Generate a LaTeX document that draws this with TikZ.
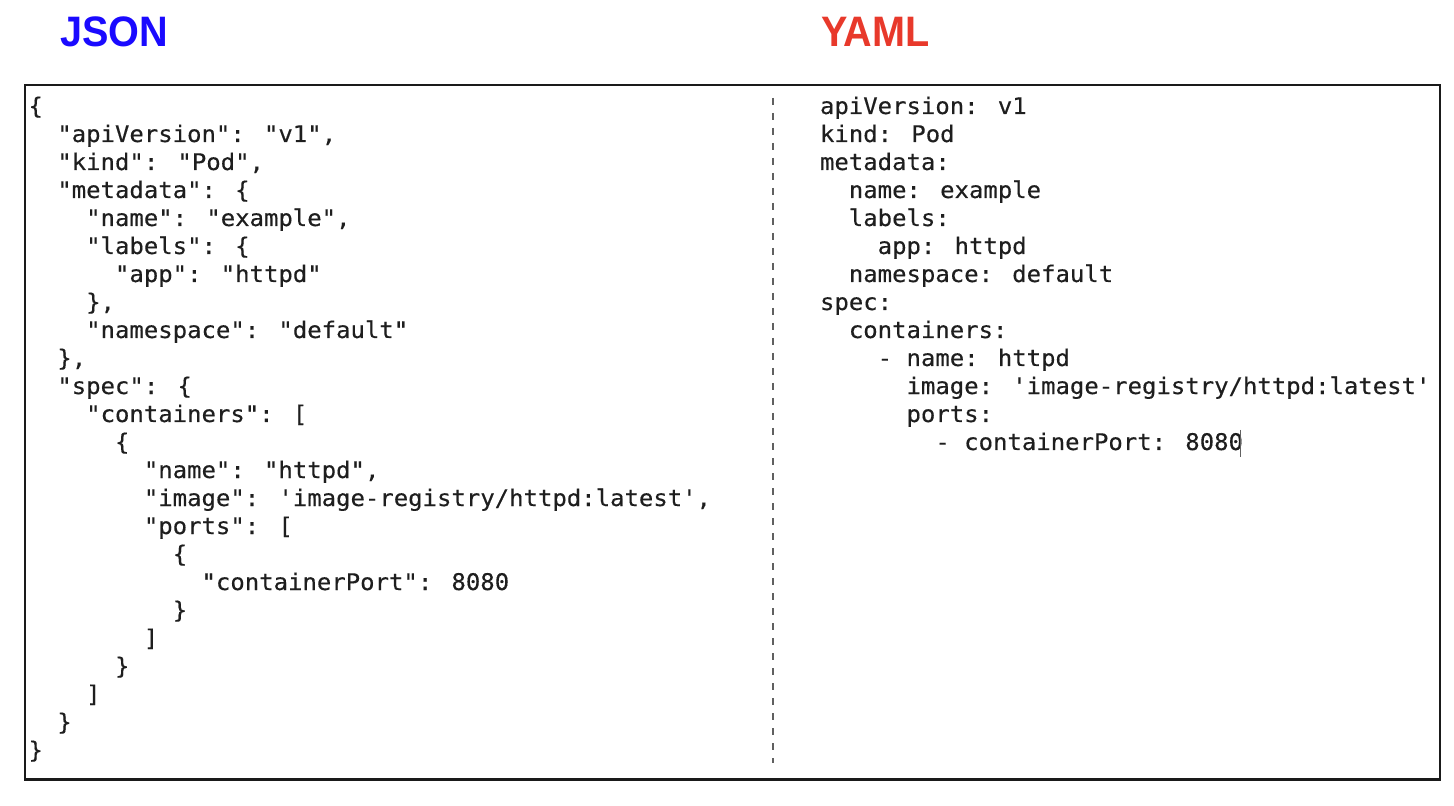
\documentclass[tikz,border=0pt]{standalone}
\usepackage{fontspec}
\usepackage{graphicx}
\setmainfont{Liberation Sans}
\newfontfamily\codefont{DejaVu Sans Mono}[FakeBold=0.3]
\newfontfamily\titlefont{Liberation Sans}
\definecolor{codecol}{HTML}{1E1E1E}
\definecolor{jsonblue}{HTML}{1A0AFF}
\definecolor{yamlred}{HTML}{E8392B}
\definecolor{framecol}{HTML}{1A1A1A}
\definecolor{dashcol}{HTML}{606060}
\newcommand\sq{\char"27\relax}
\newcommand\jl[4]{\node[code] (#1) at ({28.5+#2*14.42},{114+(#3-1)*28}) {\scalebox{1.046}[1]{#4}};}
\newcommand\yl[4]{\node[code] (#1) at ({820+#2*14.42},{114+(#3-1)*28}) {\scalebox{1.046}[1]{#4}};}
\begin{document}
\begin{tikzpicture}[x=0.5pt,y=-0.5pt,
  code/.style={anchor=base west, inner sep=0pt, outer sep=0pt, text=codecol,
    font=\fontsize{11.45}{14}\codefont},
  titletext/.style={anchor=base west, inner sep=0pt, outer sep=0pt,
    font=\fontsize{21.3}{24}\titlefont\bfseries},
  frameline/.style={draw=framecol, line width=1.1pt},
  divider/.style={draw=dashcol, line width=0.65pt, dash pattern=on 3.5pt off 4pt},
  cursorline/.style={draw=codecol!70, line width=0.5pt}]
\useasboundingbox (0,0) rectangle (1454,806);
\fill[white] (0,0) rectangle (1454,806);
% titles
\node[titletext, text=jsonblue] (tjson) at (60,47) {\scalebox{0.93}[1]{JSON}};
\node[titletext, text=yamlred] (tyaml) at (821,47) {\scalebox{0.93}[1]{YAML}};
% frame and divider
\draw[frameline] (25,85) rectangle (1440,779.5);
\draw[divider] (773,98) -- (773,763);
% JSON
\jl{j1}{0}{1}{\{}
\jl{j2}{2}{2}{"apiVersion": "v1",}
\jl{j3}{2}{3}{"kind": "Pod",}
\jl{j4}{2}{4}{"metadata": \{}
\jl{j5}{4}{5}{"name": "example",}
\jl{j6}{4}{6}{"labels": \{}
\jl{j7}{6}{7}{"app": "httpd"}
\jl{j8}{4}{8}{\},}
\jl{j9}{4}{9}{"namespace": "default"}
\jl{j10}{2}{10}{\},}
\jl{j11}{2}{11}{"spec": \{}
\jl{j12}{4}{12}{"containers": [}
\jl{j13}{6}{13}{\{}
\jl{j14}{8}{14}{"name": "httpd",}
\jl{j15}{8}{15}{"image": \sq image-registry/httpd:latest\sq,}
\jl{j16}{8}{16}{"ports": [}
\jl{j17}{10}{17}{\{}
\jl{j18}{12}{18}{"containerPort": 8080}
\jl{j19}{10}{19}{\}}
\jl{j20}{8}{20}{]}
\jl{j21}{6}{21}{\}}
\jl{j22}{4}{22}{]}
\jl{j23}{2}{23}{\}}
\jl{j24}{0}{24}{\}}
% YAML
\yl{y1}{0}{1}{apiVersion: v1}
\yl{y2}{0}{2}{kind: Pod}
\yl{y3}{0}{3}{metadata:}
\yl{y4}{2}{4}{name: example}
\yl{y5}{2}{5}{labels:}
\yl{y6}{4}{6}{app: httpd}
\yl{y7}{2}{7}{namespace: default}
\yl{y8}{0}{8}{spec:}
\yl{y9}{2}{9}{containers:}
\yl{y10}{4}{10}{- name: httpd}
\yl{y11}{6}{11}{image: \sq image-registry/httpd:latest\sq}
\yl{y12}{6}{12}{ports:}
\yl{y13}{8}{13}{- containerPort: 8080}
% text cursor
\coordinate (cur1) at (1240,430);
\coordinate (cur2) at (1240,457);
\draw[cursorline] (cur1) -- (cur2);
\end{tikzpicture}
\end{document}
